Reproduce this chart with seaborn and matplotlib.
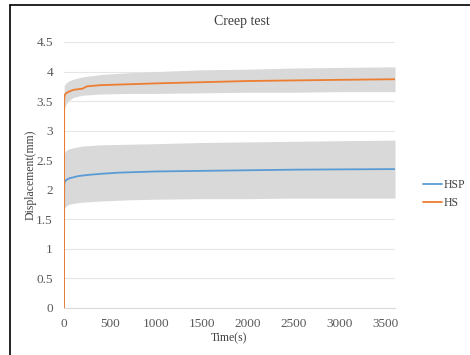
import numpy as np
import pandas as pd
import matplotlib
matplotlib.use("Agg")
import matplotlib.pyplot as plt
import seaborn as sns

# Mean creep curves
time_s = [0, 2, 5, 10, 20, 40, 70, 100, 150, 200, 250, 400, 600, 1000, 1500, 2000, 2500, 3000, 3600]
hsp_mean = [0, 2.08, 2.12, 2.14, 2.16, 2.18, 2.20, 2.21, 2.23, 2.24, 2.25, 2.27, 2.29, 2.31, 2.32, 2.33, 2.34, 2.345, 2.35]
hs_mean = [0, 3.50, 3.58, 3.61, 3.63, 3.65, 3.67, 3.69, 3.70, 3.71, 3.75, 3.77, 3.78, 3.80, 3.82, 3.84, 3.85, 3.86, 3.87]

# Scatter bands (grey)
band_time = [2, 20, 50, 100, 200, 400, 700, 1000, 1500, 2000, 2500, 3000, 3600]
hsp_upper = [2.62, 2.66, 2.69, 2.71, 2.74, 2.76, 2.77, 2.78, 2.80, 2.81, 2.82, 2.83, 2.84]
hsp_lower = [1.68, 1.72, 1.75, 1.77, 1.79, 1.81, 1.83, 1.84, 1.85, 1.85, 1.86, 1.86, 1.86]
hs_upper = [3.76, 3.80, 3.84, 3.87, 3.91, 3.95, 3.98, 4.00, 4.03, 4.04, 4.06, 4.07, 4.08]
hs_lower = [3.36, 3.44, 3.51, 3.56, 3.60, 3.62, 3.63, 3.63, 3.64, 3.65, 3.65, 3.66, 3.66]

sns.set_style("white")
plt.rcParams['font.family'] = ['Liberation Serif', 'DejaVu Serif']

fig = plt.figure(figsize=(4.7, 3.55), dpi=100)
ax = fig.add_axes([64 / 470, 47 / 355, 331 / 470, 266 / 355])

grey = '#d9d9d9'
ax.fill_between(band_time, hsp_lower, hsp_upper, color=grey, lw=0, zorder=1)
ax.fill_between(band_time, hs_lower, hs_upper, color=grey, lw=0, zorder=1)

df = pd.DataFrame({
    'time': time_s * 2,
    'disp': hsp_mean + hs_mean,
    'series': ['HSP'] * len(time_s) + ['HS'] * len(time_s),
})
sns.lineplot(data=df, x='time', y='disp', hue='series', sort=False,
             palette={'HSP': '#5b9bd5', 'HS': '#ed7d31'}, lw=1.3, ax=ax, zorder=3)

ax.set_xlim(0, 3600)
ax.set_ylim(0, 4.5)
ax.set_xticks(np.arange(0, 3501, 500))
ax.set_yticks(np.arange(0, 4.51, 0.5))
ax.set_yticklabels(['0', '0.5', '1', '1.5', '2', '2.5', '3', '3.5', '4', '4.5'])
ax.grid(axis='y', color='#e6e6e6', lw=0.8, zorder=0)
ax.set_axisbelow(True)
for s in ['top', 'right', 'left']:
    ax.spines[s].set_visible(False)
ax.spines['bottom'].set_color('#d9d9d9')
ax.spines['bottom'].set_linewidth(0.8)
ax.tick_params(axis='both', length=0, labelsize=9.5, colors='#595959')
ax.tick_params(axis='y', pad=8)
ax.tick_params(axis='x', pad=7)

ax.set_xlabel('Time(s)', fontsize=8.5, color='#404040', labelpad=2)
ax.set_ylabel('Displacement(mm)', fontsize=8.5, color='#404040', labelpad=0)
fig.text(242 / 470, 1 - 22 / 355, 'Creep test', ha='center', va='center',
         fontsize=10, color='#404040')

leg = ax.legend(loc='center left', bbox_to_anchor=(412 / 470, 1 - 194 / 355),
                bbox_transform=fig.transFigure, frameon=False, fontsize=8.5,
                handlelength=1.6, handletextpad=0.15, labelspacing=0.5)
for t in leg.get_texts():
    t.set_color('#404040')

# chart frame (left and top edges visible in the source)
fig.add_artist(plt.Line2D([10 / 470, 10 / 470], [0, 1 - 5 / 355], color='black', lw=1.2,
                          transform=fig.transFigure))
fig.add_artist(plt.Line2D([10 / 470, 1], [1 - 5 / 355, 1 - 5 / 355], color='black', lw=1.2,
                          transform=fig.transFigure))

fig.savefig('out.png', dpi=100)
